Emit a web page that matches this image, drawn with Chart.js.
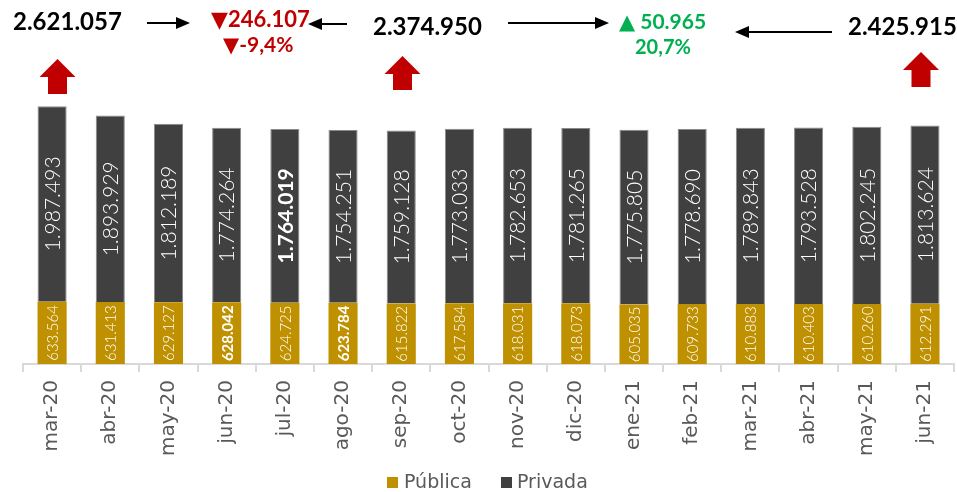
<!DOCTYPE html>
<html><head><meta charset="utf-8">
<script src="https://cdn.jsdelivr.net/npm/chart.js@4.4.0/dist/chart.umd.min.js"></script>
<style>html,body{margin:0;padding:0;background:#fff}#wrap{width:957px;height:492px;position:relative}</style>
</head><body><div id="wrap"><canvas id="c"></canvas></div>
<script>
const categories = ['mar-20','abr-20','may-20','jun-20','jul-20','ago-20','sep-20','oct-20','nov-20','dic-20','ene-21','feb-21','mar-21','abr-21','may-21','jun-21'];
const publica = [633564,631413,629127,628042,624725,623784,615822,617584,618031,618073,605035,609733,610883,610403,610260,612291];
const privada = [1987493,1893929,1812189,1774264,1764019,1754251,1759128,1773033,1782653,1781265,1775805,1778690,1789843,1793528,1802245,1813624];
const seriesNames = ['Pública','Privada'];
const boldPublica = [3,5];
const boldPrivada = [4];
const FONT = 'Lato, "DejaVu Sans", sans-serif';
const AXFONT = '"DejaVu Sans", sans-serif';

function fmt(v){return v.toString().replace(/\B(?=(\d{3})+(?!\d))/g,'.');}

const labelPlugin = {
  id:'labels',
  afterDatasetsDraw(chart){
    const ctx = chart.ctx;
    chart.data.datasets.forEach((ds,di)=>{
      const meta = chart.getDatasetMeta(di);
      meta.data.forEach((bar,i)=>{
        const cy = (bar.y + bar.base)/2;
        const isPub = di===0;
        const bold = isPub ? boldPublica.includes(i) : boldPrivada.includes(i);
        ctx.save();
        ctx.translate(bar.x, cy);
        ctx.rotate(-Math.PI/2);
        ctx.fillStyle = '#ffffff';
        ctx.textAlign='center'; ctx.textBaseline='middle';
        ctx.font = (bold?'bold ':'300 ') + (isPub?'15px ':'21px ') + FONT;
        ctx.fillText(fmt(ds.data[i]),0,1);
        ctx.restore();
      });
    });
  }
};

function arrowLine(ctx,x1,x2,y){
  ctx.save();
  ctx.strokeStyle='#000'; ctx.fillStyle='#000'; ctx.lineWidth=2;
  const dir = Math.sign(x2-x1);
  ctx.beginPath(); ctx.moveTo(x1,y); ctx.lineTo(x2-dir*12,y); ctx.stroke();
  ctx.beginPath(); ctx.moveTo(x2,y); ctx.lineTo(x2-dir*14,y-6); ctx.lineTo(x2-dir*14,y+6); ctx.closePath(); ctx.fill();
  ctx.restore();
}
function blockUp(ctx,cx,top,bottom){
  ctx.save(); ctx.fillStyle='#C00000';
  const hw=18, sw=9.5, hb=top+18;
  ctx.beginPath();
  ctx.moveTo(cx,top); ctx.lineTo(cx+hw,hb); ctx.lineTo(cx+sw,hb); ctx.lineTo(cx+sw,bottom);
  ctx.lineTo(cx-sw,bottom); ctx.lineTo(cx-sw,hb); ctx.lineTo(cx-hw,hb); ctx.closePath(); ctx.fill();
  ctx.restore();
}
function txt(ctx,s,x,y,font,color,align){
  ctx.save(); ctx.font=font; ctx.fillStyle=color; ctx.textAlign=align||'left'; ctx.textBaseline='middle';
  ctx.fillText(s,x,y); ctx.restore();
}
const annoPlugin = {
  id:'anno',
  afterDraw(chart){
    const ctx = chart.ctx;
    txt(ctx,'2.621.057',13,22,'bold 24px '+FONT,'#000');
    arrowLine(ctx,147,190,23);
    txt(ctx,'▼246.107',211,20,'bold 22px '+FONT,'#C00000');
    txt(ctx,'▼-9,4%',223,45,'bold 21px '+FONT,'#C00000');
    arrowLine(ctx,347,308,24);
    txt(ctx,'2.374.950',373,27,'bold 24px '+FONT,'#000');
    arrowLine(ctx,508,609,23);
    txt(ctx,'▲ 50.965',619,22,'bold 21px '+FONT,'#00B050');
    txt(ctx,'20,7%',635,48,'bold 20px '+FONT,'#00B050');
    arrowLine(ctx,832,735,32);
    txt(ctx,'2.425.915',848,27,'bold 24px '+FONT,'#000');
    blockUp(ctx,57.5,59,94);
    blockUp(ctx,402.5,56,90);
    blockUp(ctx,921,52,87);
    // legend
    const items = [{x:387,tx:404},{x:501,tx:517}];
    chart.data.datasets.forEach((ds,i)=>{
      ctx.save();
      ctx.fillStyle = ds.backgroundColor;
      ctx.fillRect(items[i].x,477,11,11);
      ctx.restore();
      txt(ctx,ds.label,items[i].tx,483,'19px '+AXFONT,'#595959');
    });
  }
};

new Chart(document.getElementById('c'),{
  type:'bar',
  data:{labels:categories,datasets:[
    {label:seriesNames[0],data:publica,backgroundColor:'#BF9000',borderWidth:0,barPercentage:0.5,categoryPercentage:1.0},
    {label:seriesNames[1],data:privada,backgroundColor:'#404040',borderColor:'#8a8a8a',borderWidth:{top:1,left:1,right:1,bottom:0},barPercentage:0.5,categoryPercentage:1.0}
  ]},
  options:{
    responsive:true,maintainAspectRatio:false,animation:false,
    layout:{padding:{left:23,right:1,top:0,bottom:28}},
    scales:{
      x:{stacked:true,
        grid:{display:true,offset:true,drawOnChartArea:false,drawTicks:true,tickLength:8,color:'#d9d9d9',lineWidth:2},
        border:{display:true,color:'#d9d9d9',width:2},
        ticks:{minRotation:90,maxRotation:90,autoSkip:false,color:'#595959',font:{family:AXFONT,size:20},padding:8}
      },
      y:{stacked:true,display:false,min:0,max:3700000}
    },
    plugins:{
      legend:{display:false},
      tooltip:{enabled:false}
    }
  },
  plugins:[labelPlugin,annoPlugin]
});
</script></body></html>
